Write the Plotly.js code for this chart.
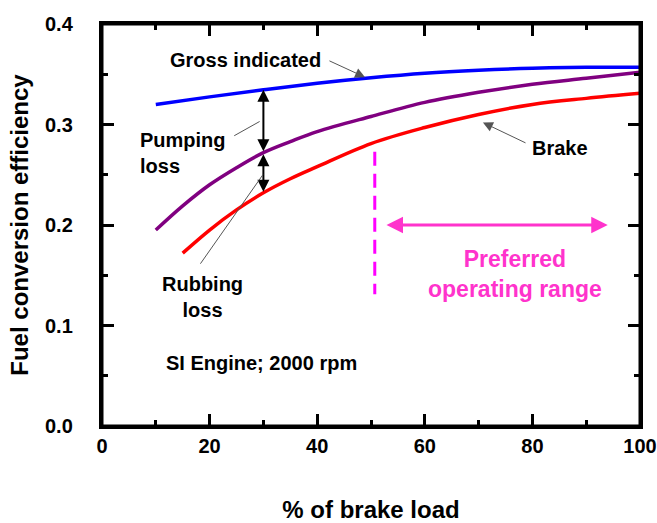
<!DOCTYPE html>
<html>
<head>
<meta charset="utf-8">
<script src="https://cdn.plot.ly/plotly-3.0.1.min.js"></script>
<style>html,body{margin:0;padding:0;background:#fff;}#chart{width:657px;height:523px;}</style>
</head>
<body>
<div id="chart"></div>
<script>
// ---- data ----
const loadGross = [10, 20, 30, 40, 50, 60, 70, 80, 90, 100];
const effGross = [0.320, 0.3275, 0.3345, 0.341, 0.3465, 0.351, 0.354, 0.356, 0.357, 0.357];

const loadPumping = [10, 15, 20, 25, 30, 35, 40, 50, 60, 70, 80, 90, 100];
const effPumping = [0.195, 0.219, 0.240, 0.257, 0.272, 0.283, 0.293, 0.308, 0.322, 0.332, 0.340, 0.346, 0.352];

const loadBrake = [15, 20, 25, 30, 35, 40, 50, 60, 70, 80, 90, 100];
const effBrake = [0.172, 0.195, 0.215, 0.232, 0.246, 0.258, 0.281, 0.297, 0.310, 0.320, 0.326, 0.331];

// loss arrows at 30 % load
const lossLoad = 30;
const lossLevels = [0.3345, 0.272, 0.233]; // gross, pumping, brake at 30 %

// preferred operating range markers
const rangeLineX = [50.7, 50.7];
const rangeLineY = [0.273, 0.131];
const rangeArrowX = [52.6, 94.0];
const rangeArrowY = 0.2;

const xTicks = [0, 20, 40, 60, 80, 100];
const yTicks = [0.0, 0.1, 0.2, 0.3, 0.4];
const xMinorTicks = [10, 30, 50, 70, 90];
const yMinorTicks = [0.05, 0.15, 0.25, 0.35];

const FONT = 'Arial, "Liberation Sans", sans-serif';
const PINK = '#ff33cc';
const NBSP4 = '\u00a0\u00a0\u00a0\u00a0';

const traces = [
  {x: loadGross, y: effGross, mode: 'lines', line: {color: '#0000ff', width: 3.5, shape: 'spline'}, hoverinfo: 'skip'},
  {x: loadPumping, y: effPumping, mode: 'lines', line: {color: '#800080', width: 3.5, shape: 'spline'}, hoverinfo: 'skip'},
  {x: loadBrake, y: effBrake, mode: 'lines', line: {color: '#ff0000', width: 3.5, shape: 'spline'}, hoverinfo: 'skip'},
  {x: rangeLineX, y: rangeLineY, mode: 'lines', line: {color: '#ff00ff', width: 3, dash: '14px,8px'}, hoverinfo: 'skip'},
  // empty trace so the minor-tick overlay axes exist
  {x: [null], y: [null], xaxis: 'x2', yaxis: 'y2', mode: 'lines', hoverinfo: 'skip'}
];

function txt(text, x, y, size, color, extra) {
  return Object.assign({text: text, x: x, y: y, xref: 'x', yref: 'y', showarrow: false,
    font: {family: FONT, size: size, color: color || '#000', weight: 'bold'}}, extra || {});
}
function arrow(x, y, ax, ay, opts) {
  return Object.assign({text: '', x: x, y: y, ax: ax, ay: ay, xref: 'x', yref: 'y', axref: 'x', ayref: 'y',
    showarrow: true, standoff: 0, startstandoff: 0}, opts);
}

const annotations = [
  txt('Gross indicated', 26.7, 0.364, 20),
  arrow(48.9, 0.347, 42.0, 0.364, {arrowhead: 2, arrowsize: 2, arrowwidth: 1, arrowcolor: '#555'}),
  txt('Pumping<br>loss', 6.6, 0.272, 20, '#000', {xanchor: 'left', align: 'left'}),
  arrow(29.3, 0.303, 24.3, 0.288, {arrowhead: 0, arrowwidth: 1, arrowcolor: '#555'}),
  arrow(lossLoad, lossLevels[0], lossLoad, lossLevels[1], {arrowhead: 2, arrowside: 'end+start', arrowsize: 1.2, arrowwidth: 2, arrowcolor: '#000'}),
  arrow(lossLoad, lossLevels[2], lossLoad, lossLevels[1], {arrowhead: 2, arrowside: 'end+start', arrowsize: 1.2, arrowwidth: 2, arrowcolor: '#000'}),
  txt('Rubbing<br>loss', 18.7, 0.128, 20),
  arrow(29.9, 0.250, 18.1, 0.160, {arrowhead: 0, arrowwidth: 1, arrowcolor: '#555'}),
  txt('Brake', 85.1, 0.277, 20),
  arrow(70.8, 0.302, 79.0, 0.281, {arrowhead: 2, arrowsize: 2, arrowwidth: 1, arrowcolor: '#555'}),
  arrow(rangeArrowX[1], rangeArrowY, rangeArrowX[0], rangeArrowY, {arrowhead: 2, arrowside: 'end+start', arrowsize: 1.1, arrowwidth: 3, arrowcolor: PINK}),
  txt('Preferred<br>operating range', 76.7, 0.151, 23, PINK),
  txt('SI Engine; 2000 rpm', 29.7, 0.063, 20)
];

const tickFont = {family: FONT, size: 20, color: '#000', weight: 'bold'};
const titleFont = {family: FONT, size: 24, color: '#000', weight: 'bold'};

// main axes: frame + major ticks (mirrored) + labels + titles
const majorCommon = {
  showline: true, linewidth: 3, linecolor: '#000', mirror: 'ticks',
  ticks: 'inside', ticklen: 12, tickwidth: 3, tickcolor: '#000',
  showgrid: false, zeroline: false, showticklabels: true, tickfont: tickFont
};
// overlay axes: minor ticks (mirrored)
const minorCommon = {
  showline: false, mirror: 'ticks', ticks: 'inside', ticklen: 6, tickwidth: 3, tickcolor: '#000',
  showgrid: false, zeroline: false, showticklabels: false
};

const layout = {
  width: 657, height: 523,
  margin: {l: 102, r: 17, t: 24, b: 97},
  paper_bgcolor: '#fff', plot_bgcolor: '#fff',
  showlegend: false,
  font: {family: FONT},
  xaxis: Object.assign({}, majorCommon, {
    range: [0, 100], tickvals: xTicks, ticktext: xTicks.map(String),
    title: {text: '% of brake load', font: titleFont, standoff: 46}
  }),
  yaxis: Object.assign({}, majorCommon, {
    range: [0, 0.4], tickvals: yTicks, ticktext: yTicks.map(v => v.toFixed(1) + NBSP4),
    title: {text: 'Fuel conversion efficiency', font: titleFont, standoff: 10}
  }),
  xaxis2: Object.assign({}, minorCommon, {range: [0, 100], tickvals: xMinorTicks, overlaying: 'x', anchor: 'y2', side: 'bottom'}),
  yaxis2: Object.assign({}, minorCommon, {range: [0, 0.4], tickvals: yMinorTicks, overlaying: 'y', anchor: 'x2', side: 'left'}),
  shapes: [
    {type: 'rect', xref: 'paper', yref: 'paper', x0: 0, x1: 1, y0: 0, y1: 1,
     line: {color: '#000', width: 3}, fillcolor: 'rgba(0,0,0,0)', layer: 'above'}
  ],
  annotations: annotations
};

Plotly.newPlot('chart', traces, layout, {staticPlot: true, displayModeBar: false});
</script>
</body>
</html>
